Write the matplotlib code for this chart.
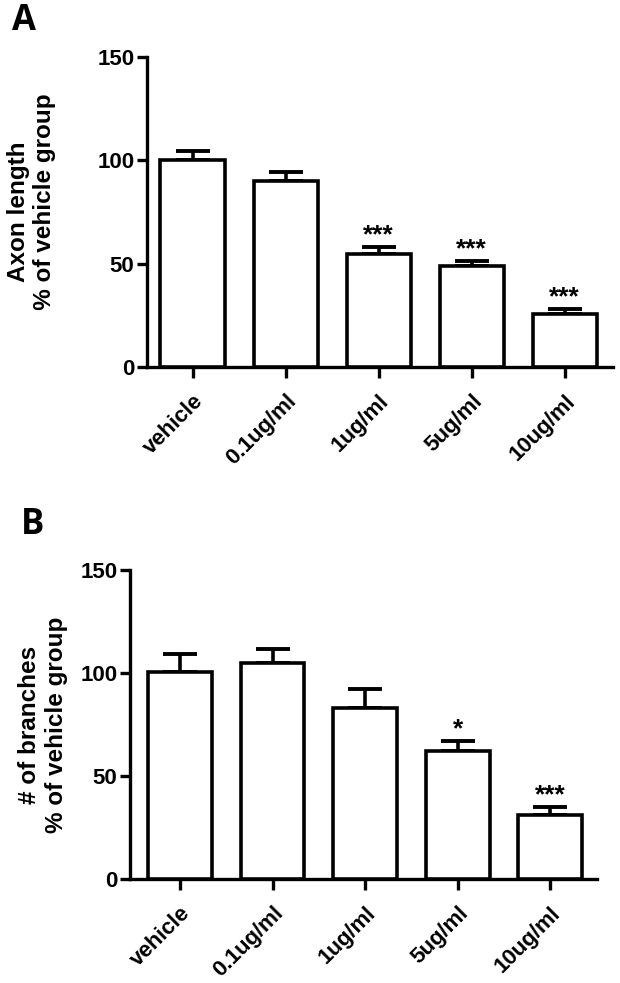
import matplotlib
matplotlib.use("Agg")
import matplotlib.pyplot as plt
import matplotlib.transforms as mtrans

categories = ["vehicle", "0.1ug/ml", "1ug/ml", "5ug/ml", "10ug/ml"]
axon_mean = [100, 90, 54.7, 49, 25.5]
axon_err = [4.6, 4.2, 3.5, 2.4, 2.5]
axon_sig = ["", "", "***", "***", "***"]
branch_mean = [100.7, 104.7, 82.9, 62.2, 31.2]
branch_err = [8.6, 6.8, 9.2, 5.0, 3.7]
branch_sig = ["", "", "", "*", "***"]
yticks = [0, 50, 100, 150]

SANS = "Liberation Sans"
fig = plt.figure(figsize=(6.2, 9.83), dpi=100)


def panel(rect, xlim, means, errs, sigs, ylabel, label_xy, letter, letter_xy):
    ax = fig.add_axes(rect)
    x = list(range(len(categories)))
    ax.bar(x, means, width=0.69, facecolor="white", edgecolor="black",
           linewidth=2.6, zorder=3)
    ax.errorbar(x, means, yerr=[[0] * len(errs), errs], fmt="none",
                ecolor="black", elinewidth=2.6, capsize=12, capthick=2.8, zorder=2)
    for xi, m, e, s in zip(x, means, errs, sigs):
        if s:
            ax.annotate(s, (xi, m + e), xytext=(0, 3.5), textcoords="offset points",
                        ha="center", va="baseline", fontsize=19,
                        family=SANS, fontweight="bold")
    ax.set_xlim(*xlim)
    ax.set_ylim(0, 150)
    ax.set_yticks(yticks)
    ax.set_xticks(x)
    ax.set_xticklabels(categories, rotation=45, ha="right", va="top",
                       rotation_mode="anchor", fontsize=16, fontweight="bold",
                       family=SANS)
    shift = mtrans.ScaledTranslation(4 / 72, 0, fig.dpi_scale_trans)
    for lab in ax.get_xticklabels():
        lab.set_transform(lab.get_transform() + shift)
    for lab in ax.get_yticklabels():
        lab.set_fontsize(16)
        lab.set_fontweight("bold")
        lab.set_family(SANS)
    for sp in ["top", "right"]:
        ax.spines[sp].set_visible(False)
    for sp in ["left", "bottom"]:
        ax.spines[sp].set_linewidth(2.4)
    ax.tick_params(axis="y", direction="out", length=7, width=2.4, pad=2)
    ax.tick_params(axis="x", direction="out", length=8, width=2.4, pad=9)
    ax.set_ylabel(ylabel, fontsize=17.5, fontweight="bold", family=SANS)
    ax.yaxis.set_label_coords(*label_xy)
    fig.text(letter_xy[0], letter_xy[1], letter, fontsize=25, fontweight="bold",
             family="Open Sans", ha="center", va="center")
    return ax


panel([0.2371, 0.6267, 0.7516, 0.3153], (-0.49, 4.52), axon_mean, axon_err, axon_sig,
      "Axon length\n   % of vehicle group", (-0.195, 0.50), "A", (0.039, 0.979))
panel([0.2097, 0.1055, 0.7524, 0.3146], (-0.54, 4.5), branch_mean, branch_err, branch_sig,
      "# of branches\n% of vehicle group", (-0.133, 0.50), "B", (0.053, 0.4655))

fig.savefig("out.png", dpi=100, facecolor="white")
